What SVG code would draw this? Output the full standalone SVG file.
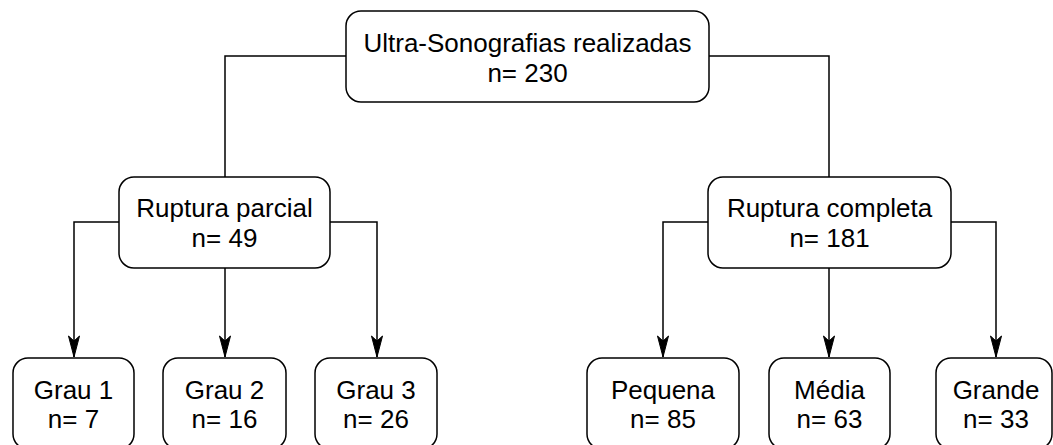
<svg xmlns="http://www.w3.org/2000/svg" width="1053" height="445" viewBox="0 0 1053 445">
<style>
.box{fill:#fff;stroke:#000;stroke-width:1.5}
.t{font-family:"Liberation Sans",Arial,sans-serif;font-size:26px;fill:#000;text-anchor:middle}
.c{fill:none;stroke:#000;stroke-width:1.5}
</style>
<defs>
<marker id="arr" markerUnits="userSpaceOnUse" viewBox="-22 -6 23 12" refX="0" refY="0" markerWidth="23" markerHeight="12" orient="auto">
<path d="M0,0 L-21,-5.5 L-16,0 L-21,5.5 Z" fill="#000" stroke="#000" stroke-width="1"/>
</marker>
</defs>
<rect width="1053" height="445" fill="#fff"/>
<g id="connectors">
<path class="c" d="M346,56 H225 V177"/>
<path class="c" d="M709,56 H829 V177"/>
<path class="c" d="M119,222 H74 V357" marker-end="url(#arr)"/>
<path class="c" d="M225,268 V357" marker-end="url(#arr)"/>
<path class="c" d="M330,222 H377 V357" marker-end="url(#arr)"/>
<path class="c" d="M708,222 H663 V357" marker-end="url(#arr)"/>
<path class="c" d="M829,268 V357" marker-end="url(#arr)"/>
<path class="c" d="M951,222 H996 V357" marker-end="url(#arr)"/>
</g>
<g id="n-top">
<rect class="box" x="346" y="11" width="363" height="91" rx="15"/>
<text class="t" x="527.5" y="52">Ultra-Sonografias realizadas</text>
<text class="t" x="527.5" y="82">n= 230</text>
</g>
<g id="n-parcial">
<rect class="box" x="119" y="177" width="211" height="91" rx="15"/>
<text class="t" x="224.5" y="217">Ruptura parcial</text>
<text class="t" x="224.5" y="247">n= 49</text>
</g>
<g id="n-completa">
<rect class="box" x="708" y="177" width="243" height="91" rx="15"/>
<text class="t" x="829.5" y="217">Ruptura completa</text>
<text class="t" x="829.5" y="247">n= 181</text>
</g>
<g id="n-grau1">
<rect class="box" x="13" y="358" width="121" height="91" rx="15"/>
<text class="t" x="73.5" y="399">Grau 1</text>
<text class="t" x="73.5" y="428">n= 7</text>
</g>
<g id="n-grau2">
<rect class="box" x="163" y="358" width="123" height="91" rx="15"/>
<text class="t" x="224.5" y="399">Grau 2</text>
<text class="t" x="224.5" y="428">n= 16</text>
</g>
<g id="n-grau3">
<rect class="box" x="315" y="358" width="122" height="91" rx="15"/>
<text class="t" x="376" y="399">Grau 3</text>
<text class="t" x="376" y="428">n= 26</text>
</g>
<g id="n-pequena">
<rect class="box" x="587" y="358" width="152" height="91" rx="15"/>
<text class="t" x="663" y="399">Pequena</text>
<text class="t" x="663" y="428">n= 85</text>
</g>
<g id="n-media">
<rect class="box" x="769" y="358" width="121" height="91" rx="15"/>
<text class="t" x="829.5" y="399">Média</text>
<text class="t" x="829.5" y="428">n= 63</text>
</g>
<g id="n-grande">
<rect class="box" x="936" y="358" width="116" height="91" rx="15"/>
<text class="t" x="996" y="399">Grande</text>
<text class="t" x="996" y="428">n= 33</text>
</g>
</svg>
